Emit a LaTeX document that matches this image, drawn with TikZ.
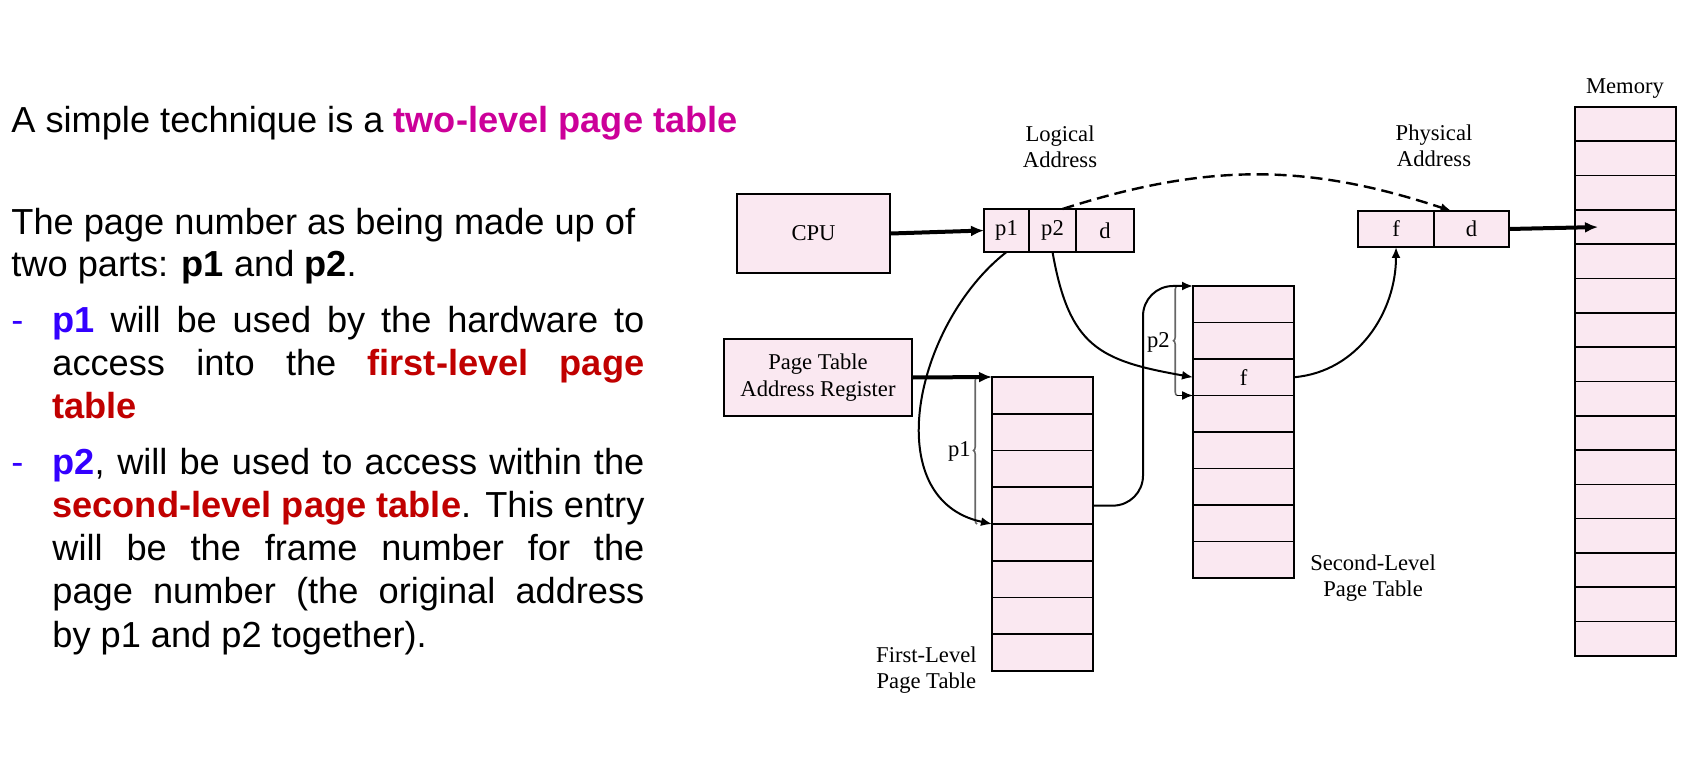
\documentclass[tikz,border=0pt]{standalone}
\usepackage{fontspec}
\setmainfont{Liberation Serif}
\setsansfont{Liberation Sans}
\usetikzlibrary{positioning,arrows.meta,decorations.pathreplacing}

\definecolor{cellpink}{RGB}{250,232,241}
\definecolor{titlemagenta}{RGB}{204,0,153}
\definecolor{keyred}{RGB}{192,0,0}
\definecolor{keyblue}{RGB}{51,0,255}

\newcommand{\jline}[1]{\makebox[296pt][s]{#1}}
\newcommand{\key}[2]{\textcolor{#1}{\textbf{#2}}}

\tikzset{
    slide text/.style = {
        font=\sffamily\fontsize{18.1}{21.5}\selectfont,
        anchor=base west,
        inner sep=0pt,
        },
    caption text/.style = {
        font=\fontsize{11.3}{13}\selectfont,
        align=center,
        inner sep=0pt,
        },
    unit box/.style = {
        draw,
        line width=1pt,
        fill=cellpink,
        font=\fontsize{11.3}{13.5}\selectfont,
        align=center,
        },
    addr cell/.style = {
        draw,
        line width=1pt,
        fill=cellpink,
        outer sep=0pt,
        inner sep=0pt,
        minimum height=21.5pt,
        font=\fontsize{11.3}{13}\selectfont,
        },
    table row/.style = {
        draw,
        line width=0.8pt,
        fill=cellpink,
        outer sep=0pt,
        inner sep=0pt,
        minimum width=50.5pt,
        },
    table frame/.style = {
        draw,
        line width=1.1pt,
        },
    bus/.style = {
        line width=2pt,
        -{Latex[length=6.5pt,width=5.5pt]},
        },
    link/.style = {
        line width=1pt,
        -{Latex[length=5.5pt,width=4.5pt]},
        },
    jump/.style = {
        line width=1.2pt,
        dash pattern=on 6pt off 3pt,
        -{Latex[length=5.5pt,width=4.5pt]},
        },
    offset brace/.style = {
        draw=black!60,
        line width=0.8pt,
        decorate,
        decoration={brace, amplitude=1.8pt},
        },
}

\begin{document}
\begin{tikzpicture}[x=0.5pt, y=-0.5pt]
    \useasboundingbox (0,0) rectangle (1689,764);

    % slide text
    \node[slide text] (title) at (11,133) {A simple technique is a \key{titlemagenta}{two-level page table}};
    \node[slide text] (intro1) at (11,235) {The page number as being made up of};
    \node[slide text] (intro2) at (11,277) {two parts: \textbf{p1} and \textbf{p2}.};
    \node[slide text, text=keyblue] (dash1) at (11,332) {-};
    \node[slide text] (p1a) at (52,332) {\jline{\key{keyblue}{p1} will be used by the hardware to}};
    \node[slide text] (p1b) at (52,375) {\jline{access into the \key{keyred}{first-level page}}};
    \node[slide text] (p1c) at (52,418) {\key{keyred}{table}};
    \node[slide text, text=keyblue] (dash2) at (11,474) {-};
    \node[slide text] (p2a) at (52,474) {\jline{\key{keyblue}{p2}, will be used to access within the}};
    \node[slide text] (p2b) at (52,517) {\jline{\key{keyred}{second-level page table}. This entry}};
    \node[slide text] (p2c) at (52,560) {\jline{will be the frame number for the}};
    \node[slide text] (p2d) at (52,603) {\jline{page number (the original address}};
    \node[slide text] (p2e) at (52,647) {by p1 and p2 together).};

    % cpu, register, addresses
    \node[unit box, minimum width=76.5pt, minimum height=39.5pt] (cpu) at (813.5,233.5) {CPU};
    \node[unit box, minimum width=94pt, minimum height=38.5pt] (ptar) at (818,377.5) {Page Table\\Address Register};

    \node[addr cell, minimum width=22.5pt, anchor=west] (la1) at (984,230.5) {p1};
    \node[addr cell, minimum width=23.5pt, right=0pt of la1] (la2) {p2};
    \node[addr cell, minimum width=29pt, right=0pt of la2] (la3) {d};
    \node[caption text] (logical) at (1060,147) {Logical\\Address};

    \node[addr cell, minimum width=38pt, minimum height=18pt, anchor=west] (pa1) at (1358,229) {f};
    \node[addr cell, minimum width=37.5pt, minimum height=18pt, right=0pt of pa1] (pa2) {d};
    \node[caption text] (physical) at (1434,146) {Physical\\Address};

    % memory
    \node[table row, minimum height=17.15pt, anchor=north west] (mem1) at (1575,107) {};
    \foreach \i [count=\j from 2] in {1,...,15}
        \node[table row, minimum height=17.15pt, below=0pt of mem\i] (mem\j) {};
    \draw[table frame] (mem1.north west) rectangle (mem16.south east);
    \node[caption text] (memory) at (1625,89) {Memory};

    % first-level page table
    \node[table row, minimum height=18.375pt, anchor=north west] (ft1) at (992,377) {};
    \foreach \i [count=\j from 2] in {1,...,7}
        \node[table row, minimum height=18.375pt, below=0pt of ft\i] (ft\j) {};
    \draw[table frame] (ft1.north west) rectangle (ft8.south east);
    \node[caption text, anchor=east] (firstname) at (977,670) {First-Level\\Page Table};

    % second-level page table
    \node[table row, minimum height=18.25pt, anchor=north west] (st1) at (1193,286) {};
    \foreach \i [count=\j from 2] in {1,...,7}
        \node[table row, minimum height=18.25pt, below=0pt of st\i] (st\j) {};
    \draw[table frame] (st1.north west) rectangle (st8.south east);
    \node[caption text] (frame) at (st3.center) {f};
    \node[caption text] (secondname) at (1373,578) {Second-Level\\Page Table};

    % offsets
    \draw[offset brace] ([xshift=-7.5pt]ft4.south west) -- ([xshift=-7.5pt]ft1.north west);
    \node[caption text, anchor=east] (p1off) at (971,451) {p1};
    \draw[offset brace] ([xshift=-8pt]st3.south west) -- ([xshift=-8pt]st1.north west);
    \draw[link, line width=0.7pt] ([xshift=-8pt]st3.south west) -- (st3.south west);
    \node[caption text, anchor=east] (p2off) at (1170,342) {p2};

    % connections
    \draw[bus] (cpu.east) -- (la1.west);
    \draw[bus] (ptar.east) -- (ft1.north west);
    \draw[bus] (pa2.east) -- ([xshift=11.5pt]mem4.west);
    \draw[jump] ([xshift=5pt]la2.north) to[bend left=18] ([xshift=-10pt]pa2.north);
    \draw[link] (la1.south) to[out=218, in=168, looseness=1.1] (ft4.south west);
    \draw[link] (la2.south) to[out=-80, in=170, looseness=1.3] (st3.west);
    \draw[link, rounded corners=15pt] (ft4.east) -- ++(25pt,0) |- (st1.north west);
    \draw[link] (st3.east) to[out=5, in=-90] (pa1.south);
\end{tikzpicture}
\end{document}
